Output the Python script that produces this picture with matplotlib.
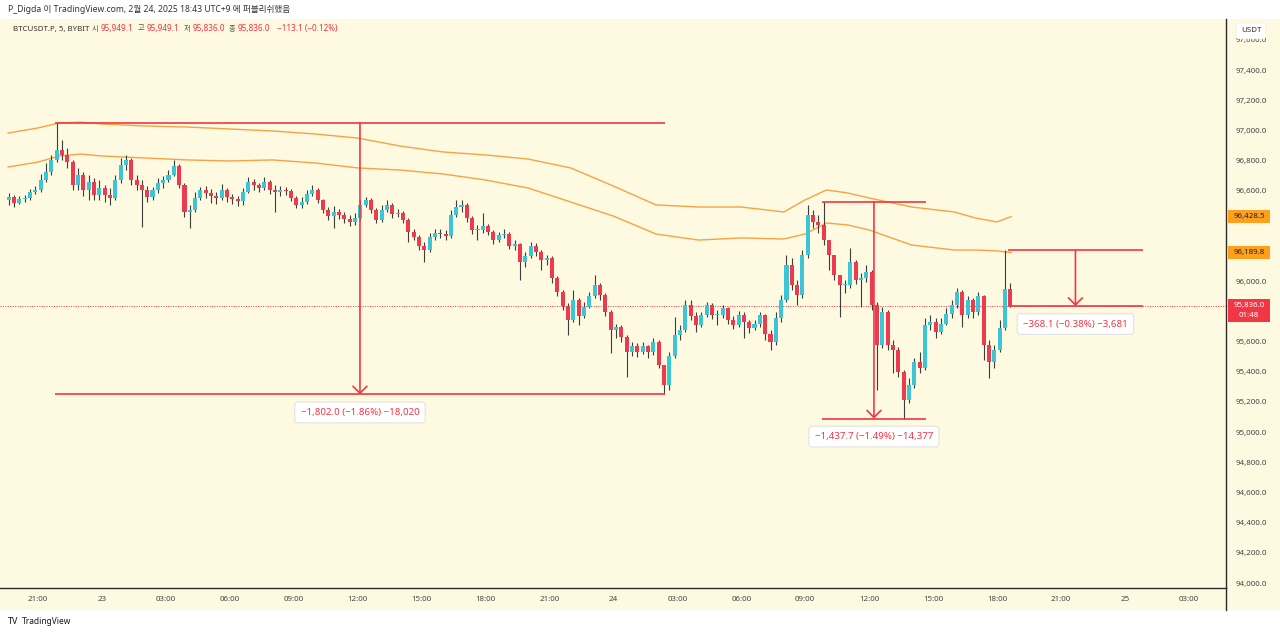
import numpy as np
import matplotlib
matplotlib.use("Agg")
import matplotlib.pyplot as plt
from matplotlib.patches import Rectangle
from matplotlib.lines import Line2D

plt.rcParams["font.family"] = ["Noto Sans", "Noto Sans CJK KR", "DejaVu Sans"]

# ─── DATA ─────────────────────────────────────────────────────────
# x = hours counted from 2025-02-23 00:00 (UTC+9), candles are 15 min
CANDLE_START = -4.5
CANDLE_STEP = 0.25
FIRST_OPEN = 96539

closes = [
    96558, 96519, 96545, 96552, 96592, 96605, 96671, 96724, 96804, 96870,
    96837, 96790, 96638, 96704, 96605, 96658, 96572, 96618, 96572, 96552,
    96671, 96770, 96804, 96671, 96638, 96605, 96558, 96605, 96651, 96671,
    96704, 96764, 96638, 96459, 96472, 96552, 96605, 96585, 96565, 96552,
    96605, 96558, 96545, 96532, 96592, 96658, 96638, 96618, 96658, 96605,
    96592, 96605, 96598, 96552, 96506, 96525, 96578, 96605, 96539, 96472,
    96432, 96459, 96439, 96413, 96393, 96419, 96506, 96539, 96472, 96406,
    96472, 96506, 96446, 96452, 96406, 96326, 96293, 96234, 96207, 96293,
    96320, 96313, 96300, 96439, 96492, 96506, 96419, 96340, 96340, 96366,
    96326, 96273, 96307, 96313, 96234, 96247, 96128, 96167, 96234, 96194,
    96141, 96154, 96021, 95929, 95836, 95743, 95876, 95770, 95829, 95902,
    95975, 95909, 95796, 95677, 95697, 95631, 95531, 95571, 95531, 95571,
    95531, 95597, 95445, 95313, 95505, 95644, 95677, 95843, 95770, 95710,
    95776, 95843, 95776, 95776, 95823, 95743, 95710, 95776, 95730, 95690,
    95717, 95776, 95651, 95597, 95756, 95876, 96108, 95975, 95909, 96174,
    96439, 96393, 96373, 96273, 96174, 96041, 95975, 95975, 96128, 96008,
    96021, 96061, 95843, 95578, 95796, 95578, 95544, 95399, 95213, 95313,
    95465, 95425, 95710, 95730, 95664, 95717, 95783, 95843, 95929, 95776,
    95876, 95796, 95902, 95578, 95465, 95544, 95690, 95949.1, 95836.0,
]
highs = [
    96585, 96572, 96565, 96572, 96611, 96631, 96711, 96784, 96837, 97052,
    96936, 96883, 96804, 96751, 96724, 96704, 96684, 96671, 96638, 96618,
    96704, 96817, 96837, 96817, 96704, 96671, 96631, 96625, 96684, 96698,
    96737, 96804, 96777, 96651, 96506, 96592, 96625, 96631, 96611, 96592,
    96644, 96618, 96578, 96565, 96618, 96691, 96678, 96651, 96691, 96671,
    96638, 96631, 96625, 96611, 96565, 96558, 96605, 96638, 96618, 96545,
    96492, 96499, 96479, 96459, 96439, 96452, 96539, 96558, 96552, 96486,
    96506, 96539, 96519, 96479, 96466, 96419, 96346, 96307, 96260, 96320,
    96346, 96346, 96340, 96472, 96539, 96539, 96519, 96432, 96373, 96452,
    96380, 96340, 96326, 96346, 96326, 96273, 96254, 96194, 96260, 96254,
    96207, 96174, 96167, 96035, 95942, 95856, 95942, 95889, 95863, 95929,
    96041, 95988, 95922, 95810, 95717, 95710, 95644, 95597, 95591, 95597,
    95578, 95624, 95611, 95445, 95531, 95763, 95710, 95876, 95876, 95796,
    95796, 95863, 95856, 95810, 95843, 95829, 95770, 95803, 95796, 95743,
    95743, 95796, 95783, 95677, 95796, 95909, 96174, 96154, 96008, 96207,
    96506, 96472, 96439, 96527.7, 96273, 96174, 96041, 96008, 96220, 96140,
    96055, 96108, 96075, 95860, 95829, 95810, 95611, 95564, 95412, 95359,
    95491, 95531, 95756, 95776, 95756, 95756, 95823, 95876, 95955, 95942,
    95902, 95889, 95929, 95909, 95611, 95578, 95743, 96204.1, 95990,
]
lows = [
    96506, 96492, 96512, 96525, 96539, 96578, 96592, 96658, 96704, 96790,
    96804, 96750, 96605, 96605, 96565, 96539, 96539, 96539, 96525, 96506,
    96539, 96651, 96737, 96638, 96605, 96360, 96525, 96539, 96585, 96618,
    96658, 96698, 96618, 96426, 96353, 96459, 96539, 96552, 96519, 96512,
    96539, 96525, 96512, 96499, 96506, 96585, 96605, 96592, 96605, 96578,
    96459, 96565, 96572, 96532, 96486, 96486, 96512, 96565, 96519, 96452,
    96406, 96353, 96413, 96386, 96366, 96373, 96406, 96492, 96452, 96386,
    96393, 96459, 96419, 96426, 96386, 96260, 96273, 96207, 96128, 96194,
    96273, 96287, 96273, 96287, 96426, 96459, 96393, 96313, 96273, 96320,
    96307, 96247, 96260, 96287, 96214, 96207, 96008, 96094, 96154, 96167,
    96075, 96108, 95988, 95902, 95810, 95644, 95730, 95710, 95756, 95823,
    95889, 95876, 95770, 95524, 95624, 95597, 95366, 95505, 95498, 95518,
    95491, 95511, 95425, 95250, 95279, 95491, 95611, 95664, 95743, 95664,
    95697, 95763, 95750, 95710, 95756, 95717, 95684, 95697, 95624, 95657,
    95677, 95697, 95611, 95544, 95580, 95730, 95863, 95942, 95843, 95889,
    96154, 96353, 96320, 96240, 96075, 96008, 95763, 95922, 95955, 95982,
    95829, 95995, 95810, 95279, 95557, 95544, 95392, 95366, 95090, 95190,
    95293, 95392, 95412, 95677, 95624, 95651, 95710, 95756, 95823, 95697,
    95756, 95756, 95776, 95478, 95359, 95425, 95531, 95677, 95830,
]

# two orange envelope lines
band_hours = [-4.4, -3, -2, -1, 0, 2, 4, 6, 8, 10, 12, 14, 16, 18, 20, 22,
              24, 26, 28, 30, 32, 33, 34, 35, 36, 38, 40, 41, 42, 42.67]
band_upper = [96982, 97016, 97049, 97055, 97042, 97029, 97022, 97009, 96996,
              96976, 96949, 96896, 96857, 96837, 96810, 96751, 96631, 96506,
              96492, 96492, 96459, 96539, 96605, 96585, 96552, 96492, 96459,
              96419, 96393, 96428.5]
band_lower = [96757, 96790, 96830, 96843, 96830, 96817, 96804, 96797, 96804,
              96784, 96751, 96737, 96711, 96671, 96618, 96525, 96432, 96313,
              96273, 96287, 96280, 96313, 96386, 96373, 96340, 96240, 96207,
              96207, 96201, 96189.8]

time_ticks = list(range(-3, 52, 3))
time_labels = ["21:00", "23", "03:00", "06:00", "09:00", "12:00", "15:00",
               "18:00", "21:00", "24", "03:00", "06:00", "09:00", "12:00",
               "15:00", "18:00", "21:00", "25", "03:00"]
price_ticks = list(range(94000, 97601, 200))

# price range measurements
measure_start = [-2.2, 33.79, 42.52]
measure_end = [26.42, 38.67, 48.85]
measure_high = [97052.0, 96527.7, 96204.1]
measure_low = [95250.0, 95090.0, 95836.0]
measure_text = ["\u22121,802.0 (\u22121.86%) \u221218,020",
                "\u22121,437.7 (\u22121.49%) \u221214,377",
                "\u2212368.1 (\u22120.38%) \u22123,681"]

last_price = 95836.0
countdown = "01:48"
header = "P_Digda 이 TradingView.com, 2월 24, 2025 18:43 UTC+9 에 퍼블리쉬했음"
symbol = "BTCUSDT.P, 5, BYBIT"
ohlc_names = ["시", "고", "저", "종"]
ohlc_values = ["95,949.1", "95,949.1", "95,836.0", "95,836.0"]
change_text = "\u2212113.1 (\u22120.12%)"

# ─── STYLE ────────────────────────────────────────────────────────
BG = "#fef9e1"
UP = "#3cc4d7"
DOWN = "#ee3a4e"
WICK = "#3d3d3d"
RED = "#f23645"
ORANGE = "#f6a443"
TAG_ORANGE = "#ffa01c"
TXT = "#454545"

W, H = 1280, 634


def fx(px):
    return px / W


def fy(py):
    return 1 - py / H


fig = plt.figure(figsize=(12.8, 6.34), dpi=100)
fig.patch.set_facecolor("white")
fig.add_artist(Rectangle((0, fy(610)), 1, fy(19) - fy(610), transform=fig.transFigure,
                         fc=BG, ec="none", zorder=0))

ax = fig.add_axes([0, fy(588), fx(1226), fy(19) - fy(588)])
ax.set_facecolor(BG)
Y0, Y1 = 93967, 97738
ax.set_xlim(-4.782, 52.75)
ax.set_ylim(Y0, Y1)
PX = (Y1 - Y0) / 569.0  # price per pixel

# ── candles ──
c = np.array(closes, dtype=float)
o = np.array([FIRST_OPEN] + closes[:-1], dtype=float)
x = CANDLE_START + CANDLE_STEP * (np.arange(len(c)) + 0.5)
up = c >= o
ax.vlines(x, lows, highs, color=WICK, lw=0.8, zorder=3)
ax.bar(x, np.maximum(np.abs(c - o), PX * 0.8), bottom=np.minimum(o, c), width=0.19,
       color=np.where(up, UP, DOWN), linewidth=0, zorder=4)

# ── envelope lines ──
ax.plot(band_hours, band_upper, color=ORANGE, lw=1.0, zorder=2)
ax.plot(band_hours, band_lower, color=ORANGE, lw=1.0, zorder=2)

# ── current price line ──
ax.axhline(last_price, color=RED, lw=0.7, ls=(0, (1, 1.5)), zorder=1)

# ── measurements ──
for s, e, hi, lo, t in zip(measure_start, measure_end, measure_high, measure_low, measure_text):
    ax.hlines([hi, lo], s, e, color=RED, lw=1.2, zorder=5)
    xc = (s + e) / 2
    ax.annotate("", xy=(xc, lo), xytext=(xc, hi),
                arrowprops=dict(arrowstyle="->,head_length=0.5,head_width=0.5", color=RED,
                                lw=1.2, shrinkA=0, shrinkB=0, mutation_scale=10), zorder=5)
    ax.annotate(t, xy=(xc, lo), xytext=(0, -13), textcoords="offset points",
                ha="center", va="center", fontsize=7, color=RED, zorder=6,
                bbox=dict(boxstyle="round,pad=0.6,rounding_size=0.3", fc="white",
                          ec="#e3e3e3", lw=0.8))

# ── price tags on the scale (they hide the scale labels under them) ──
tags = [band_upper[-1], band_lower[-1], last_price]


def hidden_by_tag(v):
    return any(abs(v - t) < 12 * PX for t in tags[:2]) or (last_price - 17 * PX < v < last_price + 7 * PX)


# ── axes ──
ax.yaxis.tick_right()
ax.set_yticks(price_ticks)
ax.set_yticklabels(["" if hidden_by_tag(v) else f"{v:,.1f}" for v in price_ticks])
ax.tick_params(axis="y", length=0, pad=7, labelsize=5.7, labelcolor=TXT)
ax.set_xticks(time_ticks)
ax.set_xticklabels(time_labels)
ax.tick_params(axis="x", length=0, pad=6, labelsize=5.7, labelcolor=TXT)
for lbl in ax.get_xticklabels():
    if lbl.get_text() == "24":
        lbl.set_fontweight("bold")
for side in ("top", "left"):
    ax.spines[side].set_visible(False)
for side in ("right", "bottom"):
    ax.spines[side].set_color("#2a2a2a")
    ax.spines[side].set_linewidth(1.0)
fig.add_artist(Line2D([fx(1226), fx(1226)], [fy(588), fy(610)], color="#2a2a2a", lw=1.0))

trans = ax.get_yaxis_transform()
tag_x0 = 1228 / 1226
tag_w = 42 / 1226


def price_tag(price, text, fc, tc):
    ax.add_patch(Rectangle((tag_x0, price - 6.5 * PX), tag_w, 13 * PX, transform=trans,
                           fc=fc, ec="none", clip_on=False, zorder=10))
    ax.text(tag_x0 + tag_w / 2, price, text, transform=trans, ha="center", va="center",
            fontsize=5.7, color=tc, clip_on=False, zorder=11)


price_tag(band_upper[-1], f"{band_upper[-1]:,.1f}", TAG_ORANGE, "#222222")
price_tag(band_lower[-1], f"{band_lower[-1]:,.1f}", TAG_ORANGE, "#222222")
ax.add_patch(Rectangle((tag_x0, last_price - 16 * PX), tag_w, 22.5 * PX, transform=trans,
                       fc=RED, ec="none", clip_on=False, zorder=10))
ax.text(tag_x0 + tag_w / 2, last_price, f"{last_price:,.1f}", transform=trans,
        ha="center", va="center", fontsize=5.7, color="white", clip_on=False, zorder=11)
ax.text(tag_x0 + tag_w / 2, last_price - 10 * PX, countdown, transform=trans,
        ha="center", va="center", fontsize=5.7, color="white", clip_on=False, zorder=11)

# USDT unit box
fig.text(fx(1251), fy(31), "USDT", ha="center", va="center", fontsize=5.7, color="#333",
         zorder=12, bbox=dict(boxstyle="round,pad=0.55,rounding_size=0.3", fc="white",
                              ec="#f0f0f0", lw=0.5))

# ── header / legend ──
fig.text(fx(8), fy(9), header, ha="left", va="center", fontsize=6.2, color="#333")
fig.text(fx(13), fy(29), symbol, ha="left", va="center", fontsize=5.7, color="#333")
name_x = [92, 138, 184, 229]
val_x = [100.5, 146.5, 192.5, 237.5]
for nx, vx, n, v in zip(name_x, val_x, ohlc_names, ohlc_values):
    fig.text(fx(nx), fy(29), n, ha="left", va="center", fontsize=5.2, color="#555")
    fig.text(fx(vx), fy(29), v, ha="left", va="center", fontsize=5.9, color=RED)
fig.text(fx(277), fy(29), change_text, ha="left", va="center", fontsize=5.9, color=RED)

# ── footer logo ──
fig.text(fx(8), fy(621), "TV", ha="left", va="center", fontsize=6.5, color="#131722",
         fontweight="bold")
fig.text(fx(22), fy(621), "TradingView", ha="left", va="center", fontsize=6, color="#131722")

fig.savefig("out.png", dpi=100, facecolor=fig.get_facecolor())
